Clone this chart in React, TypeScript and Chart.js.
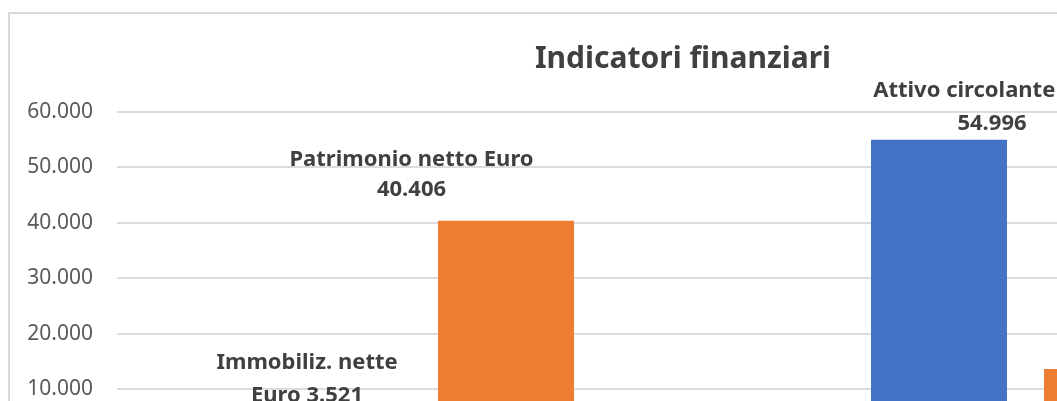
import { useEffect, useRef } from "react";
import { Chart, registerables } from "chart.js";

Chart.register(...registerables);

// ---- data ----
const categories = ["Immobilizzazioni / Patrimonio", "Circolante / Debiti"];
const seriesNames = ["Attivo", "Passivo"];
const attivoValues = [3521, 54996];
const passivoValues = [40406, 13665];
const attivoLabels = ["Immobiliz. nette\nEuro {v}", "Attivo circolante Euro\n{v}"];
const passivoLabels = ["Patrimonio netto Euro\n{v}", ""];
const yTickValues = [0, 10000, 20000, 30000, 40000, 50000, 60000];
const chartTitle = "Indicatori finanziari";

// ---- layout / style (not data) ----
const LABEL_LAYOUT = [
  [
    { dx: -26, dy: 30, gap: 32.5 },
    { dx: 53, dy: 16.5, gap: 33 },
  ],
  [
    { dx: -94.5, dy: 30.5, gap: 30.3 },
    { dx: 0, dy: 20, gap: 32 },
  ],
];
const FONT = "'Noto Sans', 'DejaVu Sans', sans-serif";
const W = 1346;
const H = 480;

const fmt = (v: number) =>
  String(Math.round(v)).replace(/\B(?=(\d{3})+(?!\d))/g, ".");

const labelsPlugin = {
  id: "barLabels",
  afterDatasetsDraw(chart: any) {
    const ctx = chart.ctx;
    const templates = [attivoLabels, passivoLabels];
    ctx.save();
    ctx.font = `bold 22px ${FONT}`;
    ctx.fillStyle = "#404040";
    ctx.textAlign = "center";
    ctx.textBaseline = "middle";
    chart.data.datasets.forEach((ds: any, i: number) => {
      const meta = chart.getDatasetMeta(i);
      meta.data.forEach((el: any, j: number) => {
        const tpl = templates[i][j];
        if (!tpl) return;
        const lines = tpl.replace("{v}", fmt(ds.data[j])).split("\n");
        const lay = LABEL_LAYOUT[i][j];
        const lastY = el.y - lay.dy;
        lines.forEach((line: string, k: number) => {
          const y = lastY - (lines.length - 1 - k) * lay.gap;
          ctx.fillText(line, el.x + lay.dx, y);
        });
      });
    });
    ctx.restore();
  },
};

export default function App() {
  const ref = useRef<HTMLCanvasElement | null>(null);

  useEffect(() => {
    if (!ref.current) return;
    const chart = new Chart(ref.current, {
      type: "bar",
      data: {
        labels: categories,
        datasets: [
          {
            label: seriesNames[0],
            data: attivoValues,
            backgroundColor: "#4472C4",
            borderWidth: 0,
            categoryPercentage: 0.571,
            barPercentage: 0.786,
          },
          {
            label: seriesNames[1],
            data: passivoValues,
            backgroundColor: "#ED7D31",
            borderWidth: 0,
            categoryPercentage: 0.571,
            barPercentage: 0.786,
          },
        ],
      },
      options: {
        responsive: false,
        animation: false,
        devicePixelRatio: 1,
        layout: { padding: { left: 0, right: 0, top: 0, bottom: 49.2 } },
        plugins: {
          legend: { display: false },
          tooltip: { enabled: false },
          title: {
            display: true,
            text: chartTitle,
            color: "#404040",
            font: { family: FONT, size: 30, weight: "bold" },
            padding: { top: 27, bottom: 35 },
          },
        },
        scales: {
          x: {
            display: false,
          },
          y: {
            min: 0,
            max: 60000,
            afterFit: (s: any) => {
              s.width = 106.5;
            },
            afterBuildTicks: (s: any) => {
              s.ticks = yTickValues.map((v) => ({ value: v }));
            },
            border: { display: false },
            grid: { color: "#dcdcdc", lineWidth: 2, drawTicks: false },
            ticks: {
              padding: 23.5,
              color: "#595959",
              font: { family: FONT, size: 21 },
              callback: (v: any) => fmt(Number(v)),
            },
          },
          yRight: {
            type: "linear",
            position: "right",
            display: true,
            grid: { display: false, drawTicks: false },
            border: { display: false },
            ticks: { display: false },
            afterFit: (s: any) => {
              s.width = 27.5;
            },
          },
        },
      },
      plugins: [labelsPlugin],
    });
    return () => chart.destroy();
  }, []);

  return (
    <div
      style={{
        position: "fixed",
        left: 0,
        top: 0,
        width: 1057,
        height: 401,
        overflow: "hidden",
        background: "#ffffff",
      }}
    >
      <div
        style={{
          position: "absolute",
          left: 8,
          top: 12,
          border: "2px solid #d9d9d9",
          width: W,
          height: H,
          background: "#ffffff",
        }}
      >
        <canvas ref={ref} width={W} height={H} style={{ display: "block", width: W, height: H }} />
      </div>
    </div>
  );
}
